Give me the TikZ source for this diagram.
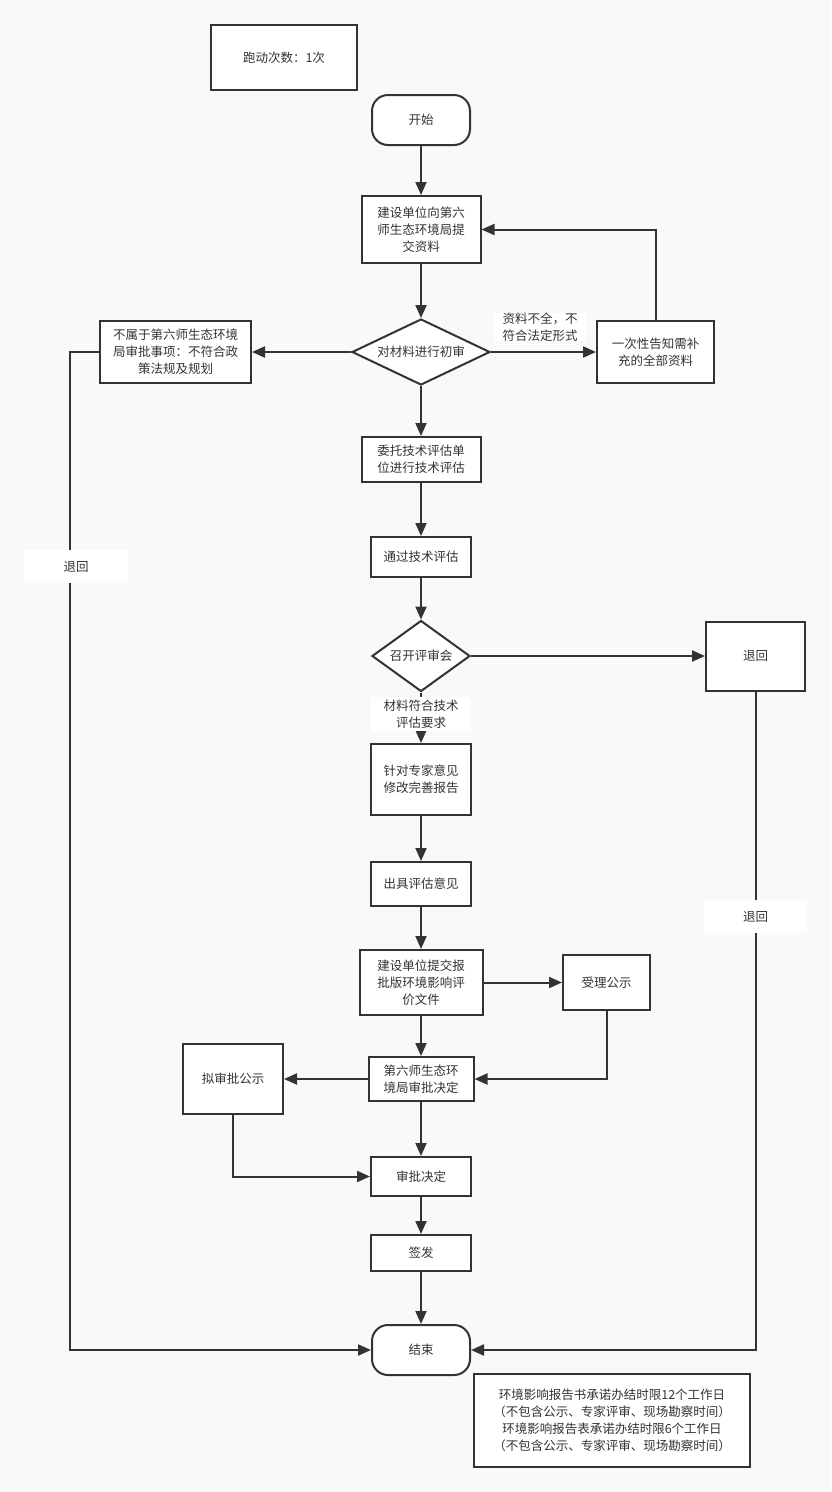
\documentclass[tikz,border=0pt]{standalone}
\usepackage{fontspec}
\setmainfont{Noto Sans CJK SC}
\usetikzlibrary{arrows.meta,shapes.geometric}
\definecolor{bg}{HTML}{F9F9F9}
\definecolor{ln}{HTML}{333333}
\definecolor{tx}{HTML}{333333}
\tikzset{
  box/.style={draw=ln, line width=2pt, fill=white, rectangle, align=center, inner sep=0pt, text=tx},
  term/.style={draw=ln, line width=2pt, fill=white, rounded corners=16pt, rectangle, align=center, inner sep=0pt, minimum width=98pt, minimum height=50pt, text=tx},
  dia/.style={draw=ln, line width=2pt, fill=white, diamond, aspect=2, inner sep=0pt, align=center, text=tx},
  lbl/.style={fill=white, align=center, inner sep=0pt, text=tx},
  conn/.style={draw=ln, line width=2pt, -{Triangle[length=13pt,width=11pt]}},
}
\begin{document}
\begin{tikzpicture}[x=1pt,y=-1pt,font=\fontsize{12.5pt}{17pt}\selectfont]
\fill[bg] (0,0) rectangle (831,1492);
\useasboundingbox (0,0) rectangle (831,1492);

\node[box, minimum width=146pt, minimum height=65pt] (runs) at (284,57.5) {跑动次数：1次};
\node[term] (start) at (421,120) {开始};
\node[box, minimum width=119pt, minimum height=67pt] (submit) at (421,229.5) {建设单位向第六\\师生态环境局提\\交资料};
\node[dia, minimum width=138pt, minimum height=66pt] (review) at (421,352) {对材料进行初审};
\node[box, minimum width=151pt, minimum height=62pt] (notbel) at (175.5,352) {不属于第六师生态环境\\局审批事项：不符合政\\策法规及规划};
\node[box, minimum width=117pt, minimum height=62pt] (inform) at (655.5,352) {一次性告知需补\\充的全部资料};
\node[box, minimum width=119pt, minimum height=45pt] (entrust) at (421,459.5) {委托技术评估单\\位进行技术评估};
\node[box, minimum width=100pt, minimum height=40pt] (pass) at (421,557) {通过技术评估};
\node[dia, minimum width=98pt, minimum height=71pt] (meet) at (421,656) {召开评审会};
\node[box, minimum width=99pt, minimum height=69pt] (back2) at (755.5,656) {退回};
\node[box, minimum width=100pt, minimum height=71pt] (revise) at (421,779.5) {针对专家意见\\修改完善报告};
\node[box, minimum width=100pt, minimum height=44pt] (opinion) at (421,884) {出具评估意见};
\node[box, minimum width=123pt, minimum height=65pt] (file) at (421,982.5) {建设单位提交报\\批版环境影响评\\价文件};
\node[box, minimum width=87pt, minimum height=55pt] (accept) at (606.5,982.5) {受理公示};
\node[box, minimum width=105pt, minimum height=44pt] (decide) at (421,1079) {第六师生态环\\境局审批决定};
\node[box, minimum width=100pt, minimum height=70pt] (pub) at (233,1079) {拟审批公示};
\node[box, minimum width=100pt, minimum height=39pt] (appr) at (421,1176.5) {审批决定};
\node[box, minimum width=100pt, minimum height=36pt] (sign) at (421,1253) {签发};
\node[term] (end) at (421,1350) {结束};
\node[box, minimum width=276pt, minimum height=93pt] (note) at (612,1420.5) {环境影响报告书承诺办结时限12个工作日\\（不包含公示、专家评审、现场勘察时间）\\环境影响报告表承诺办结时限6个工作日\\（不包含公示、专家评审、现场勘察时间）};

\coordinate (lc1) at (70,352);
\coordinate (lc2) at (70,1350);
\coordinate (rc1) at (755.5,1350);
\coordinate (ic) at (655.5,229.5);
\coordinate (ac) at (606.5,1079);
\coordinate (pc) at (233,1176.5);

\draw[conn] (start) -- (submit);
\draw[conn] (submit) -- (review);
\draw[conn] (review) -- (notbel);
\draw[conn] (review) -- (inform);
\draw[conn] (inform.north) -- (ic) -- (submit.east);
\draw[conn] (review) -- (entrust);
\draw[conn] (entrust) -- (pass);
\draw[conn] (pass) -- (meet);
\draw[conn] (meet) -- (back2);
\draw[conn] (meet) -- (revise);
\draw[conn] (revise) -- (opinion);
\draw[conn] (opinion) -- (file);
\draw[conn] (file) -- (accept);
\draw[conn] (file) -- (decide);
\draw[conn] (accept.south) -- (ac) -- (decide.east);
\draw[conn] (decide) -- (pub);
\draw[conn] (decide) -- (appr);
\draw[conn] (pub.south) -- (pc) -- (appr.west);
\draw[conn] (appr) -- (sign);
\draw[conn] (sign) -- (end);
\draw[conn] (notbel.west) -- (lc1) -- (lc2) -- (end.west);
\draw[conn] (back2.south) -- (rc1) -- (end.east);

\node[lbl, minimum width=92pt, minimum height=28pt] (l1) at (540,327) {资料不全，不\\符合法定形式};
\node[lbl, minimum width=104pt, minimum height=33pt] (l2) at (76,566.5) {退回};
\node[lbl, minimum width=103pt, minimum height=33pt] (l3) at (755.5,916.5) {退回};
\node[lbl, minimum width=100pt, minimum height=34pt] (l4) at (421,714) {材料符合技术\\评估要求};
\end{tikzpicture}
\end{document}
